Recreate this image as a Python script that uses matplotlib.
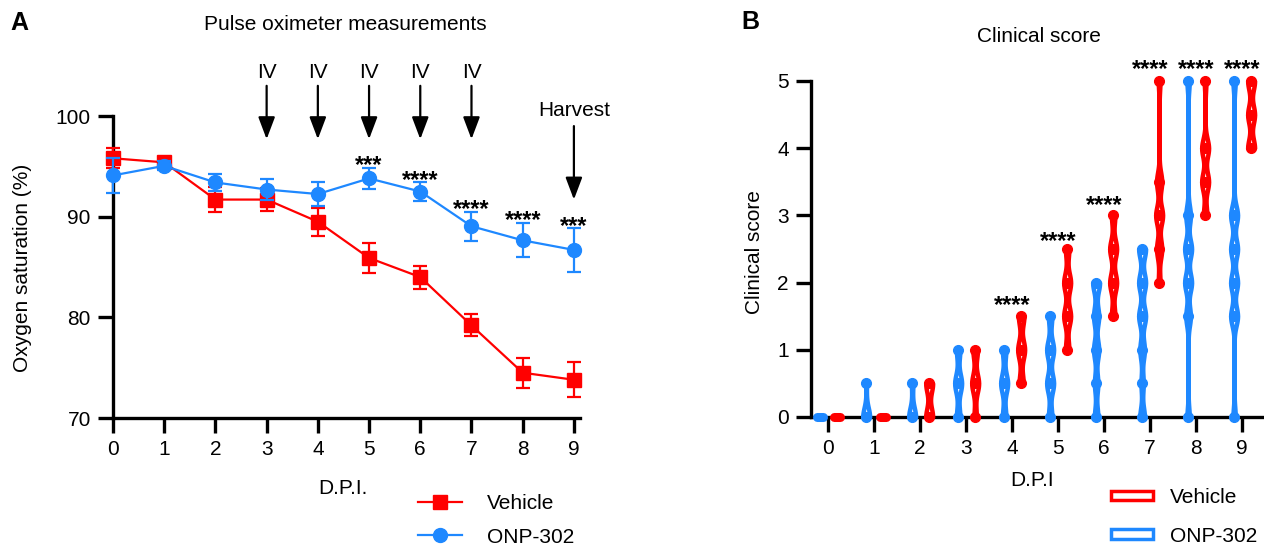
import numpy as np
import matplotlib.pyplot as plt
from matplotlib.patches import Patch
from matplotlib.lines import Line2D

plt.rcParams['font.family'] = ['Liberation Sans', 'DejaVu Sans']
plt.rcParams['font.size'] = 15

RED = '#ff0000'
BLUE = '#1e88ff'

# panel A: pulse oximeter, mean and error per day
days = np.arange(10)
veh_mean = [95.8, 95.4, 91.7, 91.7, 89.5, 85.9, 84.0, 79.2, 74.5, 73.8]
veh_err = [1.0, 0.4, 1.2, 1.1, 1.4, 1.5, 1.15, 1.1, 1.5, 1.75]
onp_mean = [94.1, 95.05, 93.4, 92.7, 92.25, 93.8, 92.5, 89.05, 87.65, 86.7]
onp_err = [1.7, 0.45, 0.85, 1.05, 1.15, 1.05, 0.95, 1.45, 1.7, 2.2]
sig_days_a = [5, 6, 7, 8, 9]
sig_a = ['***', '****', '****', '****', '***']
sig_y_a = [95.8, 94.3, 91.4, 90.3, 89.7]
iv_days = [3, 4, 5, 6, 7]
harvest_day = 9

# panel B: clinical score, number of animals at each score level per day
levels = [0, 0.5, 1, 1.5, 2, 2.5, 3, 3.5, 4, 4.5, 5]
onp_counts = [
    [12],
    [11, 1],
    [10, 2],
    [3, 6, 3],
    [3, 6, 3],
    [2, 4, 4, 2],
    [2, 2, 3, 3, 4],
    [2, 1, 2, 3, 3, 3],
    [1, 0, 0, 2, 3, 3, 2, 0, 0, 0, 1],
    [1, 0, 0, 3, 3, 3, 3, 0, 0, 0, 1],
]
veh_counts = [
    [12],
    [12],
    [6, 6],
    [2, 6, 4],
    [0, 3, 5, 4],
    [0, 0, 2, 4, 4, 2],
    [0, 0, 0, 2, 4, 4, 2],
    [0, 0, 0, 0, 1, 3, 4, 3, 0, 0, 1],
    [0, 0, 0, 0, 0, 0, 2, 4, 4, 0, 1],
    [0, 0, 0, 0, 0, 0, 0, 0, 4, 4, 4],
]
sig_days_b = [4, 5, 6, 7, 8, 9]
sig_y_b = [1.77, 2.72, 3.26, 5.27, 5.27, 5.27]

fig = plt.figure(figsize=(12.64, 5.47), dpi=100)


def star(ax, x, y, s, fs=17):
    # asterisks sit high in the glyph box, shift down so y is their centre
    ax.annotate(s, (x, y), xytext=(0, -0.58 * fs), textcoords='offset points',
                ha='center', va='baseline', fontsize=fs, fontweight='bold',
                annotation_clip=False)


def style(ax):
    for s in ['top', 'right']:
        ax.spines[s].set_visible(False)
    for s in ['left', 'bottom']:
        ax.spines[s].set_linewidth(2.4)
    ax.tick_params(width=2.4, length=11, labelsize=15, pad=5)


arrow = dict(arrowstyle='-|>,head_length=0.45,head_width=0.17', color='k',
             lw=1.6, mutation_scale=30, shrinkA=0, shrinkB=0)

# ---- A ----
axA = fig.add_axes([0.0894, 0.2358, 0.3695, 0.5521])
axA.errorbar(days, veh_mean, yerr=veh_err, color=RED, marker='s', ms=10,
             lw=1.6, elinewidth=1.6, capsize=5, capthick=1.6, clip_on=False,
             zorder=3, label='Vehicle')
axA.errorbar(days, onp_mean, yerr=onp_err, color=BLUE, marker='o', ms=10,
             lw=1.6, elinewidth=1.6, capsize=5, capthick=1.6, clip_on=False,
             zorder=4, label='ONP-302')
axA.set_xlim(0, 9.12)
axA.set_ylim(70, 100)
axA.set_xticks(days)
axA.set_yticks([70, 80, 90, 100])
style(axA)
for d, s, y in zip(sig_days_a, sig_a, sig_y_a):
    star(axA, d, y, s)
for d in iv_days:
    axA.annotate('', xy=(d, 97.7), xytext=(d, 103.0), annotation_clip=False,
                 arrowprops=arrow)
    axA.text(d, 104.3, 'IV', ha='center', va='center', fontsize=15)
axA.annotate('', xy=(harvest_day, 91.7), xytext=(harvest_day, 99.0),
             annotation_clip=False, arrowprops=arrow)
axA.text(harvest_day, 100.5, 'Harvest', ha='center', va='center', fontsize=15)

fig.text(23 / 1264, 1 - 268 / 547, 'Oxygen saturation (%)', rotation=90,
         ha='center', va='center', fontsize=15)
fig.text(343 / 1264, 1 - 488 / 547, 'D.P.I.', ha='center', va='center', fontsize=15)
fig.text(345 / 1264, 1 - 24 / 547, 'Pulse oximeter measurements', ha='center',
         va='center', fontsize=15)
fig.text(19 / 1264, 1 - 23 / 547, 'A', ha='center', va='center', fontsize=18,
         fontweight='bold')

hA = [Line2D([], [], color=RED, marker='s', ms=10, lw=1.6),
      Line2D([], [], color=BLUE, marker='o', ms=10, lw=1.6)]
fig.legend(hA, ['Vehicle', 'ONP-302'], loc='upper left',
           bbox_to_anchor=(418 / 1264, 1 - 494 / 547), frameon=False,
           borderpad=0, borderaxespad=0, handlelength=2.1, handletextpad=1.2,
           labelspacing=0.7, fontsize=15)

# ---- B ----
axB = fig.add_axes([0.6416, 0.2377, 0.3584, 0.6143])
axB.set_xlim(-0.37, 9.48)
axB.set_ylim(0, 5)
axB.set_xticks(days)
axB.set_yticks(range(6))
style(axB)

bw = 0.14
half_max = 0.075


def violin(ax, xc, counts, color):
    lv = np.array(levels[:len(counts)])
    ct = np.array(counts, dtype=float)
    vals = lv[ct > 0]
    if vals.min() == vals.max():
        ax.plot([xc - 0.06, xc + 0.06], [vals[0], vals[0]], color=color, lw=6.5,
                solid_capstyle='round', clip_on=False, zorder=4)
        return
    y = np.linspace(vals.min(), vals.max(), 300)
    dens = (ct[None, :] * np.exp(-(y[:, None] - lv[None, :]) ** 2 / (2 * bw ** 2))).sum(1)
    half = half_max * dens / dens.max()
    ax.fill_betweenx(y, xc - half, xc + half, facecolor='white', edgecolor=color,
                     linewidth=3.2, joinstyle='round', clip_on=False, zorder=4)
    ax.plot([xc] * len(vals), vals, 'o', color=color, ms=7, clip_on=False, zorder=5)


for d in days:
    violin(axB, d - 0.17, onp_counts[d], BLUE)
    violin(axB, d + 0.2, veh_counts[d], RED)
for d, y in zip(sig_days_b, sig_y_b):
    star(axB, d, y, '****')

fig.text(755 / 1264, 1 - 252 / 547, 'Clinical score', rotation=90,
         ha='center', va='center', fontsize=15)
fig.text(1032 / 1264, 1 - 480 / 547, 'D.P.I', ha='center', va='center', fontsize=15)
fig.text(1039 / 1264, 1 - 37 / 547, 'Clinical score', ha='center', va='center',
         fontsize=15)
fig.text(750 / 1264, 1 - 22 / 547, 'B', ha='center', va='center', fontsize=18,
         fontweight='bold')

hB = [Patch(facecolor='white', edgecolor=RED, lw=2.5),
      Patch(facecolor='white', edgecolor=BLUE, lw=2.5)]
fig.legend(hB, ['Vehicle', 'ONP-302'], loc='upper left',
           bbox_to_anchor=(1111 / 1264, 1 - 488 / 547), frameon=False,
           borderpad=0, borderaxespad=0, handlelength=2.0, handleheight=0.35,
           handletextpad=0.85, labelspacing=0.95, fontsize=15)

fig.savefig('out.png', dpi=100)
